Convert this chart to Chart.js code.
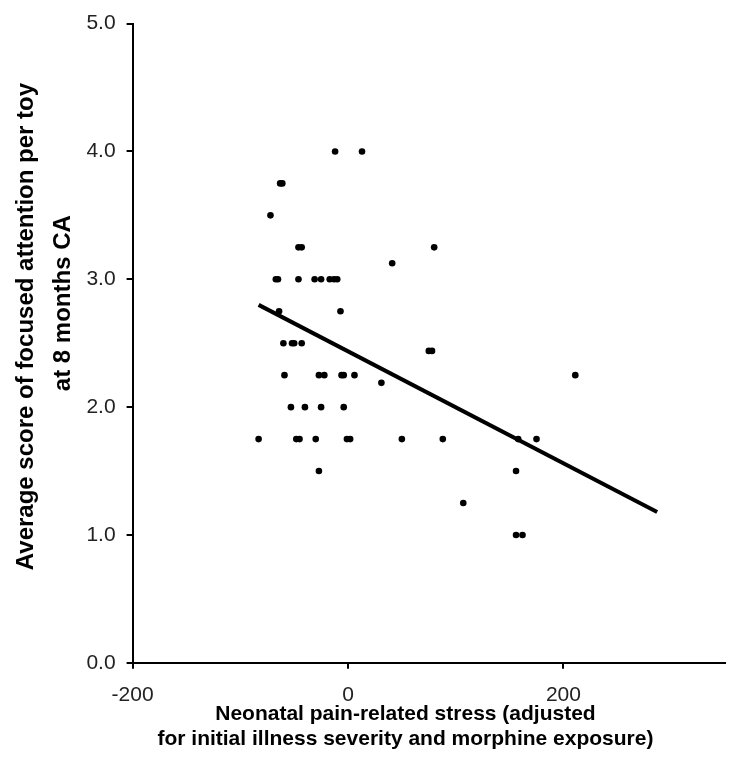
<!DOCTYPE html>
<html>
<head>
<meta charset="utf-8">
<script src="https://cdn.jsdelivr.net/npm/chart.js@4/dist/chart.umd.min.js"></script>
<style>
  html, body { margin: 0; padding: 0; background: #fff; }
  #wrap { width: 738px; height: 766px; position: relative; }
</style>
</head>
<body>
<div id="wrap"><canvas id="c" width="738" height="766"></canvas></div>
<script>
// Scatter data: neonatal pain-related stress (x) vs focused attention score (y)
const stressX = [-12, 13, -63, -61, -72, -46, -43, 80, 41, -67, -65, -46, -31, -25, -17, -13, -10,
  -64, -7, -60, -52, -50, -43, 75, 78, -59, -27, -22, -6, -4, 6, 31, 211,
  -53, -40, -25, -4, -83, -48, -45, -30, -1, 2, 50, 88, 158, 175, -27, 156, 107, 156, 162];
const attentionY = [4.0, 4.0, 3.75, 3.75, 3.5, 3.25, 3.25, 3.25, 3.125, 3.0, 3.0, 3.0, 3.0, 3.0, 3.0, 3.0, 3.0,
  2.75, 2.75, 2.5, 2.5, 2.5, 2.5, 2.44, 2.44, 2.25, 2.25, 2.25, 2.25, 2.25, 2.25, 2.19, 2.25,
  2.0, 2.0, 2.0, 2.0, 1.75, 1.75, 1.75, 1.75, 1.75, 1.75, 1.75, 1.75, 1.75, 1.75, 1.5, 1.5, 1.25, 1.0, 1.0];
// Regression line endpoints
const fitX = [-83, 287];
const fitY = [2.80, 1.18];
// Axis settings
const xTickValues = [-200, 0, 200];
const yTickValues = [0, 1, 2, 3, 4, 5];
const xTitleLines = ['Neonatal pain-related stress (adjusted', 'for initial illness severity and morphine exposure)'];
const yTitleLines = ['Average score of focused attention per toy', 'at 8 months CA'];

const points = stressX.map((x, i) => ({ x: x, y: attentionY[i] }));
const fitLine = fitX.map((x, i) => ({ x: x, y: fitY[i] }));

const FAM = 'Liberation Sans, Arial, sans-serif';
const tickFont = { family: FAM, size: 21 };

new Chart(document.getElementById('c'), {
  type: 'scatter',
  data: {
    datasets: [
      {
        data: points,
        backgroundColor: '#000',
        borderColor: '#000',
        pointRadius: 3.3,
        pointHoverRadius: 3.3,
        pointBorderWidth: 0
      },
      {
        type: 'line',
        data: fitLine,
        borderColor: '#000',
        borderWidth: 4,
        pointRadius: 0,
        fill: false
      }
    ]
  },
  options: {
    responsive: false,
    animation: false,
    layout: { padding: { top: 19, right: 13, left: 6, bottom: 14 } },
    plugins: { legend: { display: false }, tooltip: { enabled: false } },
    scales: {
      x: {
        type: 'linear',
        min: -200,
        max: 350,
        afterBuildTicks: (scale) => { scale.ticks = xTickValues.map(v => ({ value: v })); },
        ticks: { font: tickFont, color: '#222', padding: 14, callback: (v) => String(v) },
        grid: { drawOnChartArea: false, drawTicks: true, tickLength: 6, color: '#000', lineWidth: 2 },
        border: { display: true, color: '#000', width: 2 },
        title: {
          display: true,
          text: [xTitleLines[0] + '        ', xTitleLines[1] + '        '],
          font: { family: FAM, size: 21, weight: 'bold', lineHeight: 1.19 },
          color: '#000',
          padding: { top: -20, bottom: 0 }
        }
      },
      y: {
        type: 'linear',
        min: 0,
        max: 5,
        afterBuildTicks: (scale) => { scale.ticks = yTickValues.map(v => ({ value: v })); },
        ticks: { font: tickFont, color: '#222', padding: 11, callback: (v) => Number(v).toFixed(1) },
        grid: { drawOnChartArea: false, drawTicks: true, tickLength: 6, color: '#000', lineWidth: 2 },
        border: { display: true, color: '#000', width: 2 },
        title: {
          display: true,
          text: ['     ' + yTitleLines[0], '            ' + yTitleLines[1]],
          font: { family: FAM, size: 24, weight: 'bold', lineHeight: 1.55 },
          color: '#000',
          padding: { top: 2, bottom: -7 }
        }
      }
    }
  }
});
</script>
</body>
</html>
